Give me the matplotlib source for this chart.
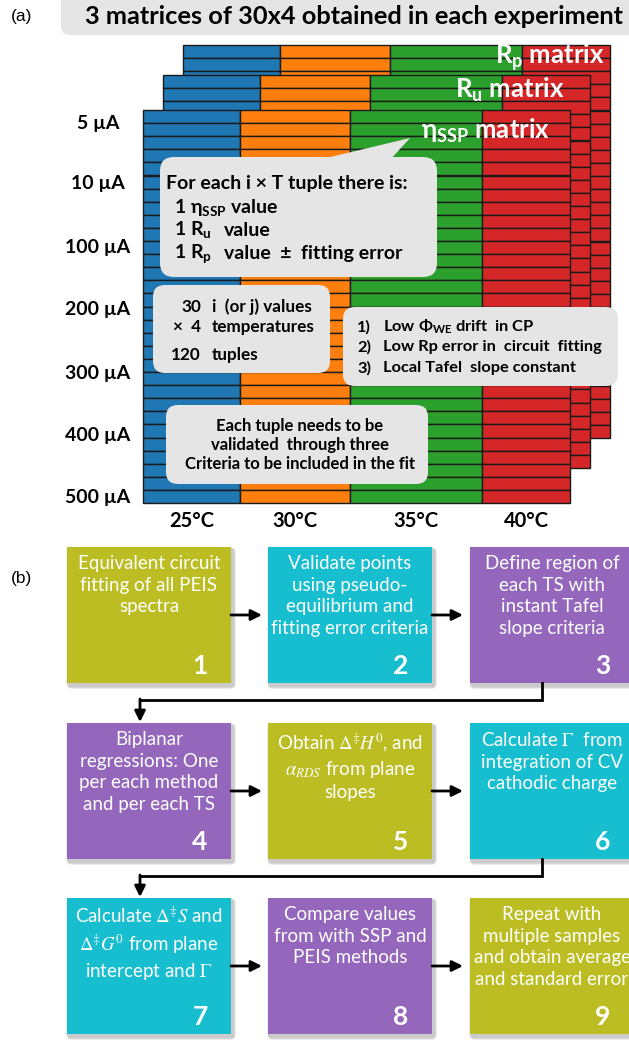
import matplotlib
matplotlib.use('Agg')
import matplotlib.pyplot as plt
from matplotlib.patches import Rectangle, FancyBboxPatch, Polygon

plt.rcParams['font.family'] = ['Lato', 'DejaVu Sans']
plt.rcParams['mathtext.fontset'] = 'custom'
plt.rcParams['mathtext.rm'] = 'Lato:bold'
plt.rcParams['mathtext.it'] = 'Lato:bold'
plt.rcParams['mathtext.bf'] = 'Lato:bold'

# panel (a): matrix axes
currents = ['5 µA', '10 µA', '100 µA', '200 µA', '300 µA', '400 µA', '500 µA']
temperatures = ['25°C', '30°C', '35°C', '40°C']
temp_colors = ['#1f77b4', '#ff7f0e', '#2ca02c', '#d62728']
n_rows = 30
matrix_names = ['R$_{p}$ matrix', 'R$_{u}$ matrix', 'η$_{SSP}$ matrix']

# panel (b): workflow steps
steps = [
    'Equivalent circuit\nfitting of all PEIS\nspectra',
    'Validate points\nusing pseudo-\nequilibrium and\nfitting error criteria',
    'Define region of\neach TS with\ninstant Tafel\nslope criteria',
    'Biplanar\nregressions: One\nper each method\nand per each TS',
    'Obtain $\\Delta^{\\ddagger}H^0$, and\n$\\alpha_{RDS}$ from plane\nslopes',
    'Calculate $\\Gamma$  from\nintegration of CV\ncathodic charge',
    'Calculate $\\Delta^{\\ddagger}S$ and\n$\\Delta^{\\ddagger}G^0$ from plane\nintercept and $\\Gamma$',
    'Compare values\nfrom with SSP and\nPEIS methods',
    'Repeat with\nmultiple samples\nand obtain average\nand standard error',
]
step_colors = ['#bcbd22', '#17becf', '#9467bd',
               '#9467bd', '#bcbd22', '#17becf',
               '#17becf', '#9467bd', '#bcbd22']

GRAY = '#e5e5e5'
EDGE = '#1a1a1a'

fig = plt.figure(figsize=(6.29, 10.41), dpi=100)
ax = fig.add_axes([0, 0, 1, 1])
ax.set_xlim(0, 629)
ax.set_ylim(1041, 0)
ax.axis('off')

# ---------------- panel (a) ----------------
ax.text(22, 16, '(a)', fontsize=12.5, family='Liberation Sans', ha='center', va='center')
ax.add_patch(FancyBboxPatch((61, -20), 600, 55, boxstyle='round,pad=0,rounding_size=9',
                            facecolor=GRAY, edgecolor='none'))
ax.text(354, 16, '3 matrices of 30x4 obtained in each experiment', fontsize=18.3,
        fontweight='bold', ha='center', va='center')

col_widths = [97, 110, 132, 88]
row_h = (503 - 110) / n_rows


def draw_matrix(x0, y0, z):
    x = x0
    for w, c in zip(col_widths, temp_colors):
        for r in range(n_rows):
            ax.add_patch(Rectangle((x, y0 + r * row_h), w, row_h, facecolor=c,
                                   edgecolor=EDGE, lw=1, zorder=z))
        x += w


# back to front: Rp, Ru, eta_SSP
origins = [(183, 45), (163, 75), (143, 110)]
label_pos = [(605, 57), (565, 90), (550, 131)]
for i, ((x0, y0), name, (lx, ly)) in enumerate(zip(origins, matrix_names, label_pos)):
    draw_matrix(x0, y0, 1 + i)
    ax.text(lx, ly, name, fontsize=18.5, fontweight='bold', color='white',
            ha='right', va='center', zorder=5)

label_y = [123, 184, 247, 310, 373, 436, 498]
for lab, y in zip(currents, label_y):
    ax.text(98, y, lab, fontsize=14, fontweight='bold', ha='center', va='center')

x = 143
for lab, w in zip(temperatures, col_widths):
    ax.text(x + w / 2, 521, lab, fontsize=14.5, fontweight='bold', ha='center', va='center')
    x += w

# speech bubble
ax.add_patch(FancyBboxPatch((160, 157), 277, 120, boxstyle='round,pad=0,rounding_size=14',
                            facecolor=GRAY, edgecolor='none', zorder=6))
ax.add_patch(Polygon([(318, 160), (410, 138), (390, 160)], facecolor=GRAY,
                     edgecolor='none', zorder=6))
ax.text(166, 183, 'For each i × T tuple there is:', fontsize=14, fontweight='bold',
        va='center', zorder=7)
ax.text(174, 207, '1 η$_{SSP}$ value', fontsize=14, fontweight='bold', va='center', zorder=7)
ax.text(174, 230, '1 R$_{u}$', fontsize=14, fontweight='bold', va='center', zorder=7)
ax.text(224, 230, 'value', fontsize=14, fontweight='bold', va='center', zorder=7)
ax.text(174, 254, '1 R$_{p}$', fontsize=14, fontweight='bold', va='center', zorder=7)
ax.text(224, 254, 'value  ±  fitting error', fontsize=14, fontweight='bold', va='center', zorder=7)

# tuple count box
ax.add_patch(FancyBboxPatch((153, 285), 177, 88, boxstyle='round,pad=0,rounding_size=12',
                            facecolor=GRAY, edgecolor='none', zorder=6))
for num, txt, y in [('30', 'i  (or j) values', 307), ('×  4', 'temperatures', 327),
                    ('120', 'tuples', 355)]:
    ax.text(201, y, num, fontsize=12.3, fontweight='bold', ha='right', va='center', zorder=7)
    ax.text(212, y, txt, fontsize=12.3, fontweight='bold', ha='left', va='center', zorder=7)

# validation criteria box
ax.add_patch(FancyBboxPatch((343, 307), 275, 79, boxstyle='round,pad=0,rounding_size=12',
                            facecolor=GRAY, edgecolor='none', zorder=6))
criteria = ['Low Φ$_{WE}$ drift  in CP', 'Low Rp error in  circuit  fitting',
            'Local Tafel  slope constant']
for k, (txt, y) in enumerate(zip(criteria, [327, 347, 368])):
    ax.text(357, y, f'{k + 1})', fontsize=11.8, fontweight='bold', va='center', zorder=7)
    ax.text(383, y, txt, fontsize=11.8, fontweight='bold', va='center', zorder=7)

ax.add_patch(FancyBboxPatch((166, 405), 262, 79, boxstyle='round,pad=0,rounding_size=12',
                            facecolor=GRAY, edgecolor='none', zorder=6))
ax.text(300, 445, 'Each tuple needs to be\nvalidated  through three\nCriteria to be included in the fit',
        fontsize=12, fontweight='bold', ha='center', va='center', linespacing=1.2, zorder=7)

# ---------------- panel (b) ----------------
ax.text(22, 578, '(b)', fontsize=12.5, family='Liberation Sans', ha='center', va='center')

box_x = [67, 268, 470]
box_y = [547, 723, 898]
bw, bh = 164, 136

for k, (txt, col) in enumerate(zip(steps, step_colors)):
    bx = box_x[k % 3]
    by = box_y[k // 3]
    # soft drop shadow
    for s, a in [(6, 0.05), (4.5, 0.07), (3, 0.09)]:
        ax.add_patch(FancyBboxPatch((bx + 2 - s / 2, by + 3 - s / 2), bw + s, bh + s,
                                    boxstyle=f'round,pad=0,rounding_size={s}',
                                    facecolor='black', edgecolor='none', alpha=a, zorder=1))
    ax.add_patch(Rectangle((bx, by), bw, bh, facecolor=col, edgecolor='none', zorder=2))
    ax.text(bx + bw / 2, by + 8, txt, fontsize=13.5, color='white',
            ha='center', va='top', linespacing=1.33, math_fontfamily='stix', zorder=3)
    ax.text(bx + 133, by + bh - 17, str(k + 1), fontsize=19, fontweight='bold',
            color='white', ha='center', va='center', zorder=3)

# arrows between boxes in a row
for by in box_y:
    yc = by + bh / 2
    for bx in box_x[:2]:
        ax.annotate('', xy=(bx + bw + 31, yc), xytext=(bx + bw, yc),
                    arrowprops=dict(arrowstyle='-|>', color='black', lw=2,
                                    mutation_scale=16, shrinkA=0, shrinkB=0), zorder=4)

# connectors from the last box of a row down to the next row
for by, ny in zip(box_y[:2], box_y[1:]):
    ymid = by + bh + 17
    ax.plot([542, 542, 140], [by + bh, ymid, ymid], color='black', lw=2,
            solid_joinstyle='miter', zorder=4)
    ax.annotate('', xy=(140, ny - 1), xytext=(140, ymid - 1),
                arrowprops=dict(arrowstyle='-|>', color='black', lw=2,
                                mutation_scale=16, shrinkA=0, shrinkB=0), zorder=4)

fig.savefig('out.png', dpi=100)
